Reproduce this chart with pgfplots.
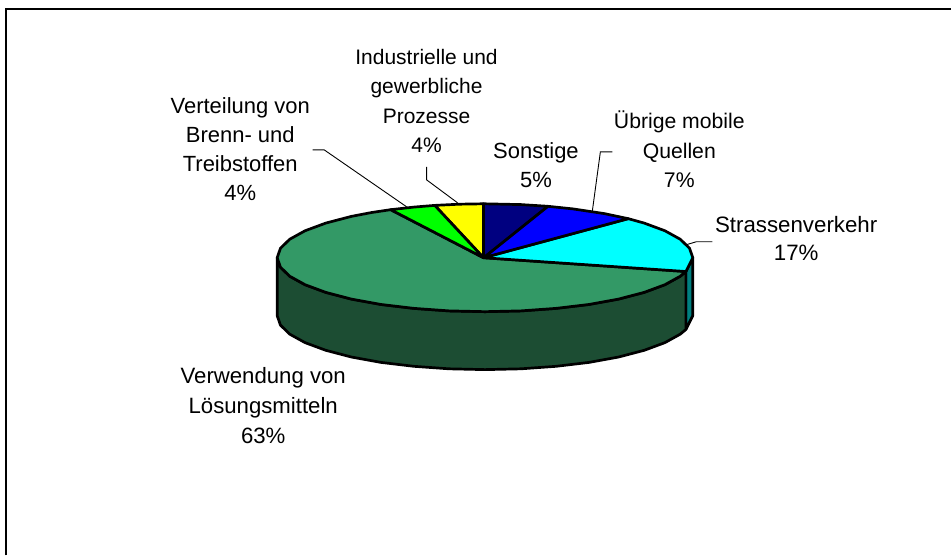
\documentclass[border=0pt]{standalone}
\usepackage{pgfplots}
\pgfplotsset{compat=1.18}
\usepackage{fontspec}
\setmainfont{Liberation Sans}

\definecolor{sonstige}{HTML}{000080}
\definecolor{mobil}{HTML}{0000FF}
\definecolor{strasse}{HTML}{00FFFF}
\definecolor{strassedark}{HTML}{008080}
\definecolor{loesung}{HTML}{339966}
\definecolor{loesungdark}{HTML}{1C4D33}
\definecolor{verteilung}{HTML}{00FF00}
\definecolor{prozesse}{HTML}{FFFF00}

\tikzset{
    pie/.style={draw=black, line width=2.7pt, line join=round},
    leader/.style={draw=black, line width=0.9pt, line join=miter},
    lab/.style={font=\fontsize{22}{29}\selectfont, align=center, text=black, inner sep=0pt},
}

\begin{document}
\begin{tikzpicture}
\begin{axis}[
    scale only axis,
    width=952pt,
    height=556pt,
    xmin=0, xmax=952,
    ymin=0, ymax=556,
    y dir=reverse,
    axis lines=none,
    clip=false,
]
% frame, only top and left show
\addplot[draw=black, line width=2pt, forget plot] coordinates {(6.5,556) (6.5,9.5) (952,9.5)};

% side wall
\addplot[pie, fill=strassedark] coordinates {
    (693.5,258) (686.6,271.8) (686.6,329.8) (693.5,316)
} -- cycle;
\addplot[pie, fill=loesungdark] coordinates {
    (686.6,271.8) (681,276.5) (665.6,285) (644.8,292.7) (619.2,299.4) (589.5,304.8)
    (556.6,308.7) (521.6,311.2) (485.5,312) (449.4,311.2) (414.4,308.7) (381.5,304.8)
    (351.8,299.4) (326.2,292.7) (305.4,285) (290,276.5) (280.7,267.4) (277.5,258)
    (277.5,316) (280.7,325.4) (290,334.5) (305.4,343) (326.2,350.7) (351.8,357.4)
    (381.5,362.8) (414.4,366.7) (449.4,369.2) (485.5,370) (521.6,369.2) (556.6,366.7)
    (589.5,362.8) (619.2,357.4) (644.8,350.7) (665.6,343) (681,334.5) (686.6,329.8)
} -- cycle;

% top slices, clockwise from twelve o'clock
\addplot[pie, fill=loesung] coordinates {
    (484,258) (686.6,271.8) (681,276.5) (665.6,285) (644.8,292.7) (619.2,299.4)
    (589.5,304.8) (556.6,308.7) (521.6,311.2) (485.5,312) (449.4,311.2) (414.4,308.7)
    (381.5,304.8) (351.8,299.4) (326.2,292.7) (305.4,285) (290,276.5) (280.7,267.4)
    (277.5,258) (280.7,248.6) (290,239.5) (305.4,231) (326.2,223.3) (351.8,216.6)
    (372.2,212.7) (391.1,209.9)
} -- cycle;
\addplot[pie, fill=strasse] coordinates {
    (484,258) (628.9,218.9) (644.8,223.3) (665.6,231) (681,239.5) (690.3,248.6)
    (693.5,258) (686.6,271.8)
} -- cycle;
\addplot[pie, fill=mobil] coordinates {
    (484,258) (548.4,206.5) (573.4,209.1) (604.8,213.8) (628.9,218.9)
} -- cycle;
\addplot[pie, fill=sonstige] coordinates {
    (484,258) (484,204) (521.6,204.8) (548.4,206.5)
} -- cycle;
\addplot[pie, fill=prozesse] coordinates {
    (484,258) (435.2,205.6) (460.1,204.4) (484,204)
} -- cycle;
\addplot[pie, fill=verteilung] coordinates {
    (484,258) (391.1,209.9) (414.4,207.3) (435.2,205.6)
} -- cycle;

% leader lines
\addplot[leader] coordinates {(313,150) (324.5,150) (407,207)};
\addplot[leader] coordinates {(427,167) (427,180) (458,203)};
\addplot[leader] coordinates {(613,152) (601,152) (593,211)};
\addplot[leader] coordinates {(713,242) (697,242) (687,245)};

\node[lab, font=\fontsize{21}{29.3}\selectfont] at (axis cs:427,101) {Industrielle und\\gewerbliche\\Prozesse\\4\%};
\node[lab] at (axis cs:240.5,149) {Verteilung von\\Brenn- und\\Treibstoffen\\4\%};
\node[lab] at (axis cs:536.5,165) {Sonstige\\5\%};
\node[lab, font=\fontsize{21.2}{29.5}\selectfont] at (axis cs:680,149.5) {Übrige mobile\\Quellen\\7\%};
\node[lab, font=\fontsize{22.3}{28.5}\selectfont] at (axis cs:797,239) {Strassenverkehr\\17\%};
\node[lab, font=\fontsize{22.2}{30}\selectfont] at (axis cs:263.5,406) {Verwendung von\\Lösungsmitteln\\63\%};

\path (axis cs:0,0) (axis cs:952,556);
\end{axis}
\end{tikzpicture}
\end{document}
